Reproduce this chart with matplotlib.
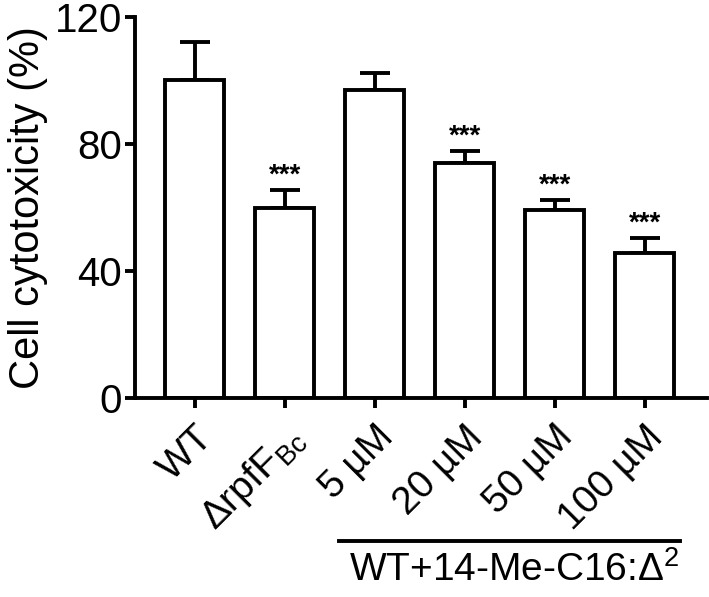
import matplotlib
matplotlib.use('Agg')
import matplotlib.pyplot as plt

plt.rcParams['font.family'] = ['Liberation Sans', 'DejaVu Sans']
plt.rcParams['mathtext.fontset'] = 'custom'
plt.rcParams['mathtext.rm'] = 'Liberation Sans'
plt.rcParams['mathtext.it'] = 'Liberation Sans:italic'

labels = ['WT', r'$\Delta$rpfF$_{\mathrm{Bc}}$', '5 µM', '20 µM', '50 µM', '100 µM']
values = [100.2, 59.8, 97.0, 74.0, 59.2, 45.7]
errors = [11.9, 5.7, 5.4, 3.8, 3.2, 4.7]
stars = ['', '***', '', '***', '***', '***']
yticks = [0, 40, 80, 120]

fig = plt.figure(figsize=(7.09, 5.97), dpi=100)
ax = fig.add_axes([0.190, 0.333, 0.807, 0.6385])

x = list(range(len(values)))
ax.bar(x, values, width=0.66, color='white', edgecolor='black', linewidth=2.8, zorder=2)
ax.errorbar(x, values, yerr=[[0] * len(errors), errors], fmt='none', ecolor='black',
            elinewidth=2.8, capsize=11, capthick=2.8, zorder=1)

for xi, v, e, s in zip(x, values, errors, stars):
    if s:
        ax.text(xi, v + e + 0.5, s, ha='center', va='bottom', fontsize=20, fontweight='bold')

ax.set_xlim(-0.667, 5.69)
ax.set_ylim(0, 120)
ax.set_yticks(yticks)
ax.set_xticks(x)
ax.set_xticklabels(labels, rotation=45, ha='right', rotation_mode='anchor', fontsize=28)
ax.tick_params(axis='y', labelsize=29, width=2.8, length=7, pad=2)
ax.tick_params(axis='x', width=2.8, length=7, pad=8)
ax.set_ylabel('Cell cytotoxicity (%)', fontsize=30, labelpad=5)

for side in ['top', 'right']:
    ax.spines[side].set_visible(False)
for side in ['left', 'bottom']:
    ax.spines[side].set_linewidth(2.8)

# group bracket under the treated samples
ax.plot([1.60, 5.39], [-0.375, -0.375], color='black', linewidth=2.8,
        transform=ax.get_xaxis_transform(), clip_on=False)
ax.text(3.55, -0.40, 'WT+14-Me-C16:Δ$^{2}$', ha='center', va='top', fontsize=28,
        transform=ax.get_xaxis_transform())

fig.savefig('out.png', dpi=100)
